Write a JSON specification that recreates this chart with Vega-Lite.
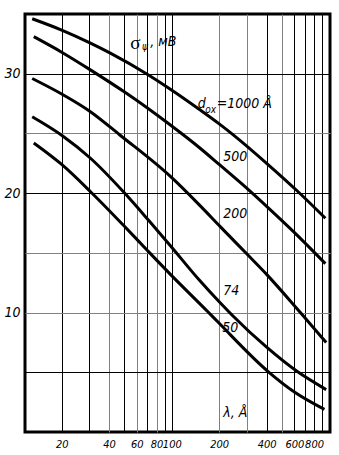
{
  "$schema": "https://vega.github.io/schema/vega-lite/v6.json",
  "width": 305,
  "height": 418,
  "autosize": "none",
  "padding": {"left": 25, "top": 14, "right": 9, "bottom": 23},
  "background": "white",
  "config": {
    "view": {"stroke": "black", "strokeWidth": 3},
    "font": "Liberation Sans Narrow, DejaVu Sans Condensed, Liberation Sans, sans-serif"
  },
  "datasets": {
    "curves": [
      {"d": "1000", "lambda": 13, "sigma": 34.6},
      {"d": "1000", "lambda": 20, "sigma": 33.65},
      {"d": "1000", "lambda": 30, "sigma": 32.6},
      {"d": "1000", "lambda": 41, "sigma": 31.7},
      {"d": "1000", "lambda": 69, "sigma": 30.0},
      {"d": "1000", "lambda": 98, "sigma": 28.7},
      {"d": "1000", "lambda": 150, "sigma": 27.0},
      {"d": "1000", "lambda": 200, "sigma": 25.8},
      {"d": "1000", "lambda": 250, "sigma": 24.8},
      {"d": "1000", "lambda": 400, "sigma": 22.5},
      {"d": "1000", "lambda": 624, "sigma": 20.2},
      {"d": "1000", "lambda": 944, "sigma": 17.9},
      {"d": "500", "lambda": 13.3, "sigma": 33.1},
      {"d": "500", "lambda": 20, "sigma": 31.8},
      {"d": "500", "lambda": 30.6, "sigma": 30.3},
      {"d": "500", "lambda": 51, "sigma": 28.4},
      {"d": "500", "lambda": 98, "sigma": 25.7},
      {"d": "500", "lambda": 150, "sigma": 23.8},
      {"d": "500", "lambda": 200, "sigma": 22.4},
      {"d": "500", "lambda": 315, "sigma": 20.15},
      {"d": "500", "lambda": 400, "sigma": 18.9},
      {"d": "500", "lambda": 590, "sigma": 16.8},
      {"d": "500", "lambda": 944, "sigma": 14.1},
      {"d": "200", "lambda": 13, "sigma": 29.6},
      {"d": "200", "lambda": 20, "sigma": 28.3},
      {"d": "200", "lambda": 30.6, "sigma": 26.8},
      {"d": "200", "lambda": 47, "sigma": 24.85},
      {"d": "200", "lambda": 98, "sigma": 21.4},
      {"d": "200", "lambda": 150, "sigma": 19.0},
      {"d": "200", "lambda": 203, "sigma": 17.2},
      {"d": "200", "lambda": 300, "sigma": 14.9},
      {"d": "200", "lambda": 400, "sigma": 13.2},
      {"d": "200", "lambda": 655, "sigma": 10.0},
      {"d": "200", "lambda": 955, "sigma": 7.5},
      {"d": "74", "lambda": 13, "sigma": 26.4},
      {"d": "74", "lambda": 20, "sigma": 24.85},
      {"d": "74", "lambda": 30.6, "sigma": 22.9},
      {"d": "74", "lambda": 51, "sigma": 19.9},
      {"d": "74", "lambda": 71, "sigma": 17.75},
      {"d": "74", "lambda": 98, "sigma": 15.6},
      {"d": "74", "lambda": 150, "sigma": 12.7},
      {"d": "74", "lambda": 200, "sigma": 10.9},
      {"d": "74", "lambda": 241, "sigma": 9.8},
      {"d": "74", "lambda": 400, "sigma": 7.1},
      {"d": "74", "lambda": 620, "sigma": 5.1},
      {"d": "74", "lambda": 955, "sigma": 3.55},
      {"d": "50", "lambda": 13.3, "sigma": 24.2},
      {"d": "50", "lambda": 20, "sigma": 22.4},
      {"d": "50", "lambda": 30.6, "sigma": 20.1},
      {"d": "50", "lambda": 49, "sigma": 17.35},
      {"d": "50", "lambda": 70, "sigma": 15.2},
      {"d": "50", "lambda": 98, "sigma": 13.2},
      {"d": "50", "lambda": 170, "sigma": 10.05},
      {"d": "50", "lambda": 200, "sigma": 9.1},
      {"d": "50", "lambda": 414, "sigma": 5.0},
      {"d": "50", "lambda": 600, "sigma": 3.35},
      {"d": "50", "lambda": 931, "sigma": 1.9}
    ],
    "labels": [
      {"lambda": 192.9, "sigma": 27.47, "t": "=1000 Å"},
      {"lambda": 146.1, "sigma": 27.47, "t": "d"},
      {"lambda": 212, "sigma": 23.0, "t": "500"},
      {"lambda": 212, "sigma": 18.26, "t": "200"},
      {"lambda": 212, "sigma": 11.8, "t": "74"},
      {"lambda": 209, "sigma": 8.75, "t": "50"},
      {"lambda": 212, "sigma": 1.59, "t": "λ, Å"},
      {"lambda": 73, "sigma": 32.65, "t": ", мВ"}
    ],
    "sigmaLabel": [
      {"lambda": 54.4, "sigma": 32.6, "t": "σ"}
    ],
    "subs": [
      {"lambda": 163.1, "sigma": 26.95, "t": "ox"},
      {"lambda": 64.8, "sigma": 32.25, "t": "ψ"}
    ]
  },
  "encoding": {
    "x": {
      "field": "lambda",
      "type": "quantitative",
      "scale": {"type": "log", "domain": [11.7, 1010], "nice": false},
      "axis": {
        "title": null,
        "values": [20, 30, 40, 50, 60, 70, 80, 90, 100, 200, 300, 400, 500, 600, 700, 800, 900],
        "labelExpr": "indexof([20,40,60,80,100,200,400,600,800], datum.value) >= 0 ? datum.label : ''",
        "domain": false,
        "ticks": false,
        "grid": true,
        "gridColor": {"condition": {"test": "indexof([40,60,80,200,300,500], datum.value) >= 0", "value": "#808080"}, "value": "black"},
        "gridWidth": 1,
        "gridOpacity": 1,
        "labelFontSize": 11,
        "labelFontStyle": "italic",
        "labelColor": "black",
        "labelPadding": 6,
        "labelFlush": false,
        "labelOverlap": false
      }
    },
    "y": {
      "field": "sigma",
      "type": "quantitative",
      "scale": {"domain": [0, 35], "nice": false, "zero": false},
      "axis": {
        "title": null,
        "values": [5, 10, 15, 20, 25, 30],
        "labelExpr": "indexof([10,20,30], datum.value) >= 0 ? datum.label : ''",
        "domain": false,
        "ticks": false,
        "grid": true,
        "gridColor": {"condition": {"test": "indexof([10,15,25], datum.value) >= 0", "value": "#808080"}, "value": "black"},
        "gridWidth": 1,
        "gridOpacity": 1,
        "labelFontSize": 14,
        "labelFontStyle": "italic",
        "labelColor": "black",
        "labelPadding": 5,
        "labelFlush": false,
        "labelOverlap": false
      }
    }
  },
  "layer": [
    {
      "data": {"name": "curves"},
      "mark": {"type": "line", "color": "black", "strokeWidth": 3, "interpolate": "monotone", "clip": true},
      "encoding": {"detail": {"field": "d"}}
    },
    {
      "data": {"name": "labels"},
      "mark": {"type": "text", "align": "left", "baseline": "middle", "fontSize": 14, "fontStyle": "italic", "color": "black"},
      "encoding": {"text": {"field": "t"}}
    },
    {
      "data": {"name": "sigmaLabel"},
      "mark": {"type": "text", "align": "left", "baseline": "middle", "fontSize": 19, "color": "black", "font": "Liberation Serif, serif"},
      "encoding": {"text": {"field": "t"}}
    },
    {
      "data": {"name": "subs"},
      "mark": {"type": "text", "align": "left", "baseline": "middle", "fontSize": 10, "fontStyle": "italic", "color": "black"},
      "encoding": {"text": {"field": "t"}}
    }
  ]
}
